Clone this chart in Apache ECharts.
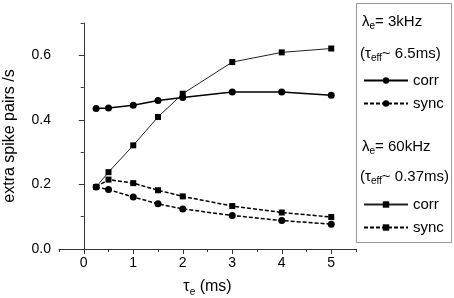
<!DOCTYPE html>
<html>
<head>
<meta charset="utf-8">
<script src="https://cdn.jsdelivr.net/npm/echarts@6/dist/echarts.min.js"></script>
<style>
  html, body { margin: 0; padding: 0; background: #fff; }
  #chart { width: 454px; height: 298px; }
</style>
</head>
<body>
<div id="chart"></div>
<script>
const tauE = [0.25, 0.5, 1, 1.5, 2, 3, 4, 5]
const corr3k = [0.435, 0.437, 0.445, 0.46, 0.469, 0.486, 0.486, 0.476]
const sync3k = [0.192, 0.184, 0.161, 0.140, 0.124, 0.104, 0.088, 0.077]
const corr60k = [0.192, 0.238, 0.321, 0.409, 0.481, 0.579, 0.609, 0.621]
const sync60k = [0.192, 0.215, 0.204, 0.182, 0.163, 0.133, 0.113, 0.099]
const xLabels = [0, 1, 2, 3, 4, 5]
const yLabels = [0, 0.2, 0.4, 0.6]

const font = 'Liberation Sans, Arial, sans-serif'
const sub = { fontSize: 10, fontFamily: font, color: '#000', padding: [10, 0, 0, 0] }
const txt = { fontSize: 15, fontFamily: font, color: '#000' }

function pairs(ys) {
  return tauE.map((x, i) => [x, ys[i]])
}

const chart = echarts.init(document.getElementById('chart'))
// second grid sits on top of the first one and only carries the long (major) ticks
const gridBox = { left: 59, right: 98, top: 23, bottom: 49, containLabel: false, outerBoundsMode: 'none' }

const option = {
  animation: false,
  grid: [gridBox, Object.assign({}, gridBox)],
  xAxis: [
    {
      gridIndex: 0, type: 'value', min: -0.5, max: 5.5, interval: 0.5,
      axisLine: { show: true, lineStyle: { color: '#333', width: 1 } },
      axisTick: { show: true, length: 3, lineStyle: { color: '#333' } },
      axisLabel: { customValues: xLabels, color: '#000', fontSize: 14, fontFamily: font, margin: 7 },
      splitLine: { show: false },
      name: '{a|τ}{s|e}{a| (ms)}', nameLocation: 'middle', nameGap: 28,
      nameTextStyle: { rich: { a: { fontSize: 16, fontFamily: font, color: '#000' }, s: sub } }
    },
    {
      gridIndex: 1, type: 'value', min: -0.5, max: 5.5, interval: 0.5,
      axisLine: { show: false },
      axisTick: { show: true, length: 5, customValues: xLabels, lineStyle: { color: '#333' } },
      axisLabel: { show: false }, splitLine: { show: false }
    }
  ],
  yAxis: [
    {
      gridIndex: 0, type: 'value', min: 0, max: 0.7, interval: 0.1,
      axisLine: { show: true, lineStyle: { color: '#333', width: 1 } },
      axisTick: { show: true, length: 3, lineStyle: { color: '#333' } },
      axisLabel: { customValues: yLabels, formatter: v => v.toFixed(1), color: '#000', fontSize: 14, fontFamily: font, margin: 8 },
      splitLine: { show: false },
      name: 'extra spike pairs /s', nameLocation: 'middle', nameGap: 41,
      nameTextStyle: { fontSize: 16, fontFamily: font, color: '#000' }
    },
    {
      gridIndex: 1, type: 'value', min: 0, max: 0.7, interval: 0.1,
      axisLine: { show: false },
      axisTick: { show: true, length: 5, customValues: yLabels, lineStyle: { color: '#333' } },
      axisLabel: { show: false }, splitLine: { show: false }
    }
  ],
  legend: [
    {
      data: ['corr 3kHz', 'sync 3kHz'], orient: 'vertical', left: 358, top: 68,
      itemWidth: 44, itemHeight: 8, itemGap: 8, formatter: n => n.split(' ')[0],
      textStyle: txt, selectedMode: false
    },
    {
      data: ['corr 60kHz', 'sync 60kHz'], orient: 'vertical', left: 358, top: 192,
      itemWidth: 44, itemHeight: 8, itemGap: 8, formatter: n => n.split(' ')[0],
      textStyle: txt, selectedMode: false
    }
  ],
  graphic: [
    { type: 'rect', shape: { x: 356.5, y: 3.5, width: 95, height: 239 },
      style: { fill: 'none', stroke: '#999', lineWidth: 1 } },
    { type: 'text', left: 362, top: 14,
      style: { text: '{a|λ}{s|e}{a|= 3kHz}', rich: { a: txt, s: sub } } },
    { type: 'text', left: 360, top: 46,
      style: { text: '{a|(τ}{s|eff}{a|~ 6.5ms)}', rich: { a: txt, s: sub } } },
    { type: 'text', left: 362, top: 139,
      style: { text: '{a|λ}{s|e}{a|= 60kHz}', rich: { a: txt, s: sub } } },
    { type: 'text', left: 360, top: 169,
      style: { text: '{a|(τ}{s|eff}{a|~ 0.37ms)}', rich: { a: txt, s: sub } } }
  ],
  series: [
    {
      name: 'corr 3kHz', type: 'line', data: pairs(corr3k),
      symbol: 'circle', symbolSize: 7,
      lineStyle: { color: '#000', width: 1.5 }, itemStyle: { color: '#000' }
    },
    {
      name: 'sync 3kHz', type: 'line', data: pairs(sync3k),
      symbol: 'circle', symbolSize: 7,
      lineStyle: { color: '#000', width: 1.5, type: [4, 2] }, itemStyle: { color: '#000' }
    },
    {
      name: 'corr 60kHz', type: 'line', data: pairs(corr60k),
      symbol: 'rect', symbolSize: 6,
      lineStyle: { color: '#222', width: 1 }, itemStyle: { color: '#000' }
    },
    {
      name: 'sync 60kHz', type: 'line', data: pairs(sync60k),
      symbol: 'rect', symbolSize: 6,
      lineStyle: { color: '#000', width: 1.5, type: [4, 2] }, itemStyle: { color: '#000' }
    }
  ]
}
chart.setOption(option)
</script>
</body>
</html>
